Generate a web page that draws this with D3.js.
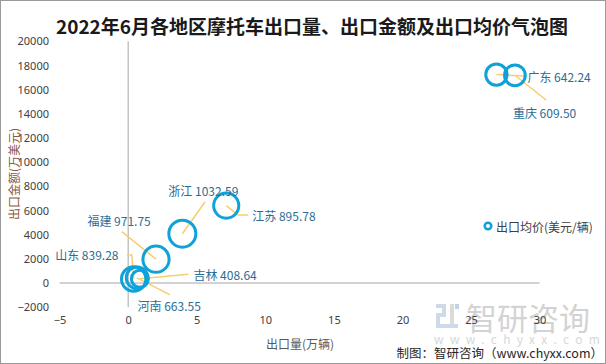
<!DOCTYPE html>
<html><head><meta charset="utf-8">
<script src="https://cdn.jsdelivr.net/npm/d3@7"></script>
<style>
html,body{margin:0;padding:0;background:#fff;}
svg{display:block;font-family:"Noto Sans CJK SC","Noto Sans",sans-serif;}
</style></head>
<body>
<svg id="chart" width="606" height="364"></svg>
<script>
// ---- data ----
const regions = ["广东","重庆","江苏","浙江","福建","山东","吉林","河南"];
const exportVolume = [26.85, 28.2, 7.15, 3.95, 2.03, 0.4, 0.85, 0.65];          // 万辆
const exportAmount = [17244, 17188, 6405, 4080, 1973, 336, 347, 431];          // 万美元
const avgPrice = [642.24, 609.50, 895.78, 1032.59, 971.75, 839.28, 408.64, 663.55]; // 美元/辆
const xTicks = [-5, 0, 5, 10, 15, 20, 25, 30];
const yTicks = [-2000, 0, 2000, 4000, 6000, 8000, 10000, 12000, 14000, 16000, 18000, 20000];
const title = "2022年6月各地区摩托车出口量、出口金额及出口均价气泡图";
const seriesName = "出口均价(美元/辆)";

// ---- label layout (pixel offsets from bubble centre) ----
const labelLayout = {
  "广东": {dx: 31, dy: 1.5, leader: [[28, 1.5]]},
  "重庆": {dx: -2, dy: 37, leader: [[31.5, 25]]},
  "江苏": {dx: 26, dy: 10, leader: [[12, 9.5], [22, 9.5]]},
  "浙江": {dx: -14, dy: -43.5, leader: [[22.8, -32]]},
  "福建": {dx: -68.6, dy: -39, leader: [[-34.2, -27.5]]},
  "山东": {dx: -78.5, dy: -24, leader: [[-0.2, -1.6], [-1.8, -24], [-6.8, -24]]},
  "吉林": {dx: 53.6, dy: -4.5, leader: [[48.6, -4.5]]},
  "河南": {dx: 0.4, dy: 28, leader: [[33, 17]]}
};

const svg = d3.select("#chart");
const W = 606, H = 364;
const blue = "#0ea2d8";

svg.append("rect").attr("x", 0.5).attr("y", 0.5).attr("width", W - 1).attr("height", H - 1)
  .attr("fill", "#fff").attr("stroke", "#9a9a9a");

const x = d3.scaleLinear().domain([-5, 30]).range([59.6, 539.6]);
const y = d3.scaleLinear().domain([-2000, 20000]).range([307.2, 41.3]);
const r = d3.scaleSqrt().domain([0, d3.max(avgPrice)]).range([0, 13.5]);

// title
svg.append("text").attr("x", 312).attr("y", 25).attr("text-anchor", "middle")
  .attr("dominant-baseline", "central").attr("font-size", 19).attr("font-weight", 700)
  .attr("fill", "#1a1a1a").text(title);

// axis lines
svg.append("line").attr("x1", x(-5)).attr("x2", x(30)).attr("y1", y(0)).attr("y2", y(0))
  .attr("stroke", "#a6a6a6").attr("stroke-width", 1);
svg.append("line").attr("x1", x(0)).attr("x2", x(0)).attr("y1", y(20000)).attr("y2", y(-2000))
  .attr("stroke", "#a6a6a6").attr("stroke-width", 1);

// watermark (drawn beneath tick labels)
const wm = svg.append("g").attr("opacity", 0.5);
wm.append("rect").attr("x", 436).attr("y", 304).attr("width", 10).attr("height", 4).attr("fill", "#9fb6d3");
wm.append("rect").attr("x", 442).attr("y", 304).attr("width", 4).attr("height", 12).attr("fill", "#9fb6d3");
wm.append("rect").attr("x", 436).attr("y", 313).attr("width", 10).attr("height", 4).attr("fill", "#9fb6d3");
wm.append("rect").attr("x", 436).attr("y", 313).attr("width", 4).attr("height", 14).attr("fill", "#9fb6d3");
wm.append("rect").attr("x", 436).attr("y", 324).attr("width", 22).attr("height", 4).attr("fill", "#9fb6d3");
wm.append("rect").attr("x", 450).attr("y", 304).attr("width", 4).attr("height", 20).attr("fill", "#b8b8b8");
wm.append("rect").attr("x", 455).attr("y", 304).attr("width", 4).attr("height", 5).attr("fill", "#7fa7d8");
wm.append("text").attr("x", 528).attr("y", 316).attr("text-anchor", "middle")
  .attr("dominant-baseline", "central").attr("font-size", 31).attr("fill", "#a9a9a9").text("智研咨询");
wm.append("text").attr("x", 434).attr("y", 338)
  .attr("dominant-baseline", "central").attr("font-size", 12).attr("letter-spacing", 6.3)
  .attr("fill", "#b0b0b0").text("www.chyxx.com");

// ticks via d3 axes (no domain, no tick lines)
const yAxis = svg.append("g").attr("transform", "translate(49,0)")
  .call(d3.axisLeft(y).tickValues(yTicks).tickSize(0).tickPadding(0).tickFormat(d3.format("d")));
yAxis.select(".domain").remove();
yAxis.selectAll("text").attr("font-size", 11).attr("fill", "#404040")
  .attr("font-family", "'Noto Sans','Noto Sans CJK SC',sans-serif");

const xAxis = svg.append("g").attr("transform", "translate(0,316)")
  .call(d3.axisBottom(x).tickValues(xTicks).tickSize(0).tickPadding(0).tickFormat(d3.format("d")));
xAxis.select(".domain").remove();
xAxis.selectAll("text").attr("font-size", 11).attr("fill", "#404040")
  .attr("font-family", "'Noto Sans','Noto Sans CJK SC',sans-serif");

// axis titles
svg.append("text").attr("transform", "translate(13,174) rotate(-90)")
  .attr("text-anchor", "middle").attr("dominant-baseline", "central")
  .attr("font-size", 12).attr("fill", "#8a5a44").text("出口金额(万美元)");
svg.append("text").attr("x", 300).attr("y", 343).attr("text-anchor", "middle")
  .attr("dominant-baseline", "central").attr("font-size", 12).attr("fill", "#595959")
  .text("出口量(万辆)");

svg.append("text").attr("x", 603).attr("y", 352).attr("text-anchor", "end")
  .attr("dominant-baseline", "central").attr("font-size", 12.5).attr("fill", "#262626")
  .text("制图：智研咨询（www.chyxx.com）");

// data
const data = regions.map((name, i) => ({name, vx: exportVolume[i], vy: exportAmount[i], p: avgPrice[i]}));

// leader lines
const lineGen = d3.line();
data.forEach(d => {
  const cx = x(d.vx), cy = y(d.vy), L = labelLayout[d.name];
  const pts = [[cx, cy]].concat(L.leader.map(p => [cx + p[0], cy + p[1]]));
  svg.append("path").attr("d", lineGen(pts)).attr("fill", "none")
    .attr("stroke", "#f7cd72").attr("stroke-width", 1.5);
});

// bubbles
svg.append("g").selectAll("circle").data(data).join("circle")
  .attr("cx", d => x(d.vx)).attr("cy", d => y(d.vy)).attr("r", d => r(d.p))
  .attr("fill", "none").attr("stroke", blue).attr("stroke-width", 3);

// labels
svg.append("g").selectAll("text").data(data).join("text")
  .attr("x", d => x(d.vx) + labelLayout[d.name].dx)
  .attr("y", d => y(d.vy) + labelLayout[d.name].dy)
  .attr("dominant-baseline", "central").attr("font-size", 12).attr("fill", "#2b6d96")
  .text(d => d.name + " " + d3.format(".2f")(d.p));

// legend
svg.append("circle").attr("cx", 488).attr("cy", 226).attr("r", 3.3)
  .attr("fill", "#fff").attr("stroke", blue).attr("stroke-width", 2.5);
svg.append("text").attr("x", 496).attr("y", 226).attr("dominant-baseline", "central")
  .attr("font-size", 12).attr("fill", "#404040").text(seriesName);
</script>
</body></html>
